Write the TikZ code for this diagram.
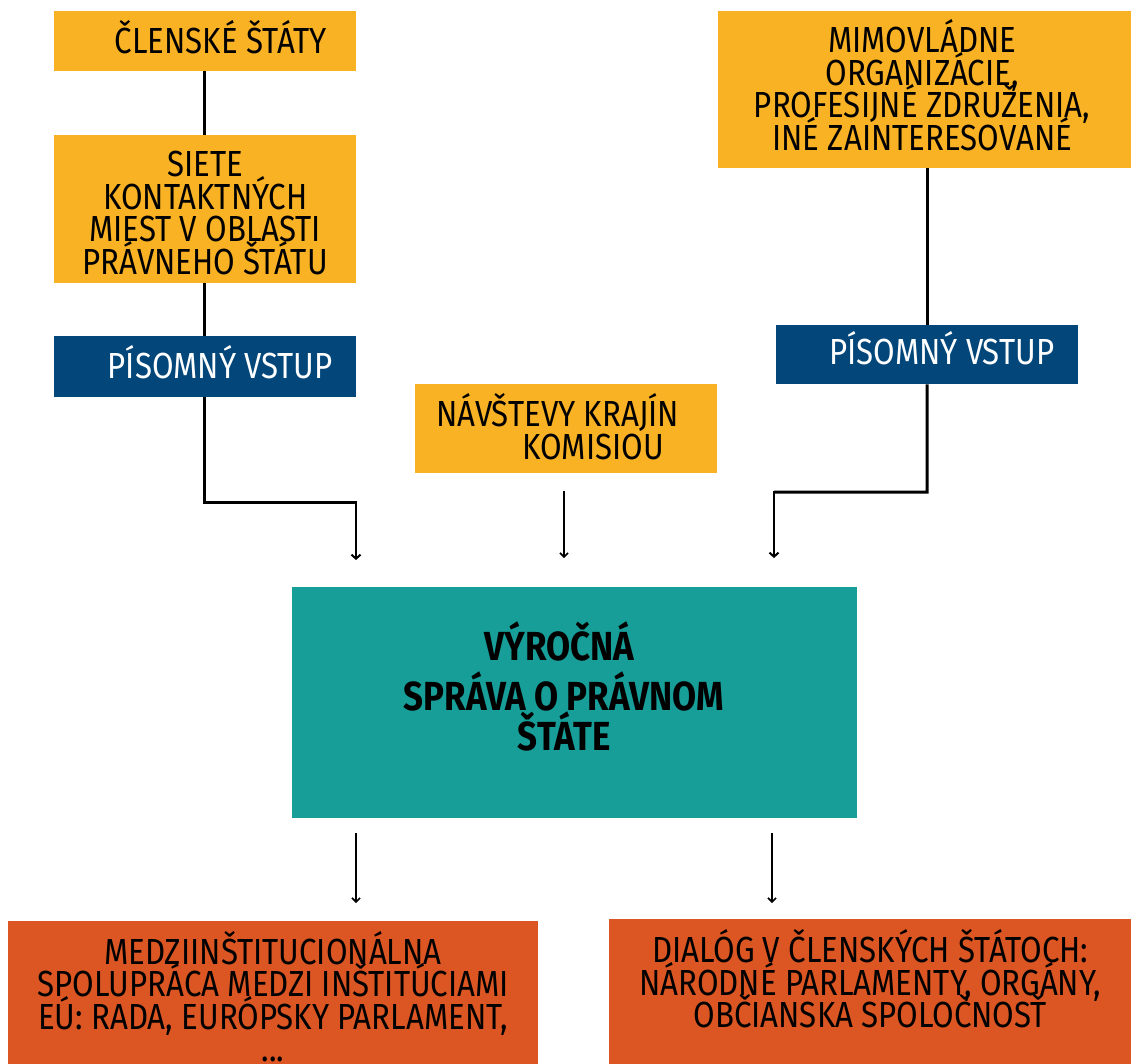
\documentclass[tikz,border=0pt]{standalone}
\usepackage{fontspec}
\setmainfont{Fira Sans}[FakeStretch=0.86]
\usetikzlibrary{arrows.meta}
\definecolor{yellowc}{HTML}{F9B224}
\definecolor{bluec}{HTML}{02467A}
\definecolor{tealc}{HTML}{179E98}
\definecolor{orangec}{HTML}{DB5622}
\setlength{\lineskiplimit}{-200pt}
\newcommand{\padd}[1]{\rule{#1}{0pt}}
\tikzset{
  boxbase/.style={rectangle, draw=none, inner sep=0pt, anchor=north west, align=center,
    font=\fontsize{36.3}{32.5}\selectfont, text depth=0pt},
  ybox/.style={boxbase, fill=yellowc, text=black},
  bbox/.style={boxbase, fill=bluec, text=white},
  obox/.style={boxbase, fill=orangec, text=black},
  tbox/.style={boxbase, fill=tealc, text=black,
    font=\fontsize{40.6}{40}\selectfont\bfseries},
  thick line/.style={line width=3pt},
  arrowline/.style={line width=2pt, -{Straight Barb[length=4pt,width=9pt,line width=2pt]}},
  thinarrow/.style={line width=1.5pt, -{Straight Barb[length=4pt,width=8pt,line width=1.6pt]}},
}
\begin{document}
\begin{tikzpicture}[x=1pt,y=-1pt]
\useasboundingbox (0,0) rectangle (1131,1063);
% boxes
\node[ybox, minimum width=302pt, minimum height=60pt, text height=24pt] (clen) at (54,11) {\padd{31pt}ČLENSKÉ ŠTÁTY};
\node[ybox, minimum width=302pt, minimum height=148pt, text height=130pt] (siete) at (54,135)
  {SIETE\\KONTAKTNÝCH\\MIEST V OBLASTI\\PRÁVNEHO ŠTÁTU};
\node[bbox, minimum width=302pt, minimum height=61pt, text height=23pt] (pis1) at (54,336) {\padd{30pt}PÍSOMNÝ VSTUP};
\node[ybox, minimum width=413pt, minimum height=157pt, text height=121pt] (mimo) at (718,11)
  {MIMOVLÁDNE\padd{5pt}\\ORGANIZÁCIE,\padd{5pt}\\PROFESIJNÉ ZDRUŽENIA,\padd{5pt}\\INÉ ZAINTERESOVANÉ\padd{5pt}};
\node[bbox, minimum width=302pt, minimum height=59pt, text height=19pt] (pis2) at (776,325) {\padd{29pt}PÍSOMNÝ VSTUP};
\node[ybox, minimum width=302pt, minimum height=89pt, text height=61pt] (navs) at (415,384)
  {NÁVŠTEVY KRAJÍN\padd{17pt}\\\padd{54pt}KOMISIOU};
\node[tbox, minimum width=565pt, minimum height=231pt, text height=118pt, text depth=23pt] (report) at (292,587)
  {VÝROČNÁ\padd{30pt}\\[10pt]SPRÁVA O PRÁVNOM\padd{22pt}\\ŠTÁTE\padd{21pt}};
\node[obox, minimum width=530pt, minimum height=159pt, text height=122.5pt] (medzi) at (8,921)
  {MEDZIINŠTITUCIONÁLNA\\SPOLUPRÁCA MEDZI INŠTITÚCIAMI\\EÚ: RADA, EURÓPSKY PARLAMENT,\\...};
\node[obox, minimum width=522pt, minimum height=161pt, text height=90pt, text depth=34pt] (dial) at (609,919)
  {DIALÓG V ČLENSKÝCH ŠTÁTOCH:\\NÁRODNÉ PARLAMENTY, ORGÁNY,\\OBČIANSKA SPOLOČNOSŤ};
% coordinates
\coordinate (lbend) at (204,502);
\coordinate (lend) at (356,560);
\coordinate (mstart) at (564,491);
\coordinate (mend) at (564,558);
\coordinate (rbend) at (927,492);
\coordinate (rend) at (774,558);
\coordinate (b1s) at (356,833);
\coordinate (b1e) at (356,903);
\coordinate (b2s) at (772,833);
\coordinate (b2e) at (772,903);
% connectors
\draw[thick line] (clen.south -| lbend) -- (siete.north -| lbend);
\draw[thick line] (siete.south -| lbend) -- (pis1.north -| lbend);
\draw[thick line] (pis1.south -| lbend) -- (lbend) -- (lbend -| lend);
\draw[arrowline] ([yshift=1pt]lbend -| lend) -- (lend);
\draw[thinarrow] (mstart) -- (mend);
\draw[thick line] (mimo.south -| pis2.north) -- (pis2.north);
\draw[thick line] (pis2.south) -- (rbend) -- (rbend -| rend);
\draw[arrowline] ([yshift=1pt]rbend -| rend) -- (rend);
\draw[thinarrow] (b1s) -- (b1e);
\draw[thinarrow] (b2s) -- (b2e);
\end{tikzpicture}
\end{document}
